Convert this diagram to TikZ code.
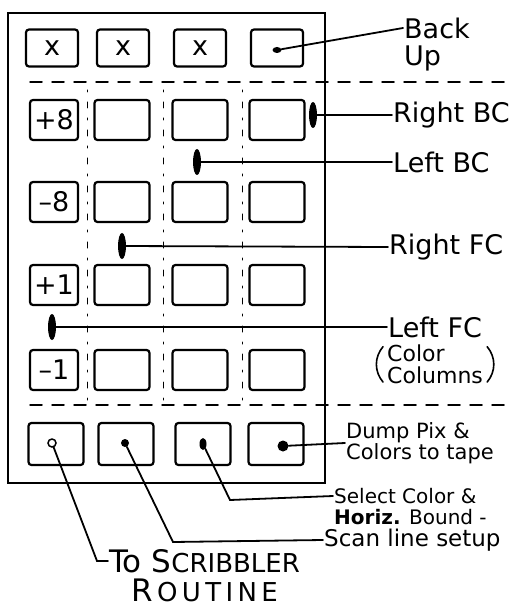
\documentclass[tikz,border=0pt]{standalone}
\usepackage{fontspec}
\setmainfont{DejaVu Sans}
\usetikzlibrary{positioning,shapes.geometric}
\newcommand{\fsz}[1]{\fontsize{#1}{#1}\selectfont}
\newcommand{\scpart}[1]{{\fsz{26}#1}}

\begin{document}
\begin{tikzpicture}[x=1pt, y=-1pt, line cap=round,
    key/.style={draw, line width=2.2pt, rounded corners=3pt, minimum width=55pt,
      minimum height=40pt, inner sep=0pt},
    numkey/.style={key, minimum width=48pt, font=\fsz{27}},
    blob/.style={fill, ellipse, inner sep=0pt, minimum width=8pt, minimum height=26pt},
    dot/.style={fill, circle, inner sep=0pt, minimum size=#1},
    lead/.style={line width=1.8pt},
    lbl/.style={anchor=west, inner sep=1pt, font=\fsz{27}},
    note/.style={anchor=west, inner sep=1pt, font=\fsz{21}},
    paren/.style={line width=1.6pt},
    sep/.style={line width=1.5pt, dash pattern=on 12pt off 10pt},
    col/.style={line width=1pt, dash pattern=on 2pt off 10pt on 6pt off 10pt}]
  \useasboundingbox (0,0) rectangle (522,609);
  % panel and separators
  \draw[line width=2.5pt] (8,13) rectangle (325,483);
  \draw[sep] (30,82) -- (510,82);
  \draw[sep] (30,405) -- (510,405);
  \foreach \x in {87,163,242}
    \draw[col] (\x,90) -- (\x,400);
  % top row
  \foreach \x/\n in {52/1,123/2,200/3}
    \node[key, minimum width=52pt, minimum height=37pt, font=\fsz{27}] (top\n) at (\x,48) {x};
  \node[key, minimum width=52pt, minimum height=37pt] (top4) at (277,48) {};
  % colour grid
  \foreach \y/\r/\t in {120/1/+8, 202/2/–8, 285/3/+1, 370/4/–1}{
    \node[numkey] (k\r1) at (54,\y) {\t};
    \foreach \x/\c in {122/2,200/3,277/4}
      \node[key] (k\r\c) at (\x,\y) {};
  }
  % bottom row
  \foreach \x/\n in {56/1,126/2,203/3,276/4}
    \node[key, minimum height=42pt] (bot\n) at (\x,444) {};
  % pointers
  \node[dot=8pt, fill=none, draw, line width=1.5pt] (scrib) at (52,443) {};
  \node[dot=8pt] (scan) at (125,443) {};
  \node[fill, ellipse, inner sep=0pt, minimum width=7pt, minimum height=12pt] (select) at (203,444) {};
  \node[dot=11pt] (dump) at (283,446) {};
  \node[fill, ellipse, inner sep=0pt, minimum width=9pt, minimum height=6pt] (backup) at (277,50) {};
  \node[blob] (rbc) at (313,115) {};
  \node[blob] (lbc) at (197,162) {};
  \node[blob] (rfc) at (122,246) {};
  \node[blob] (lfc) at (52,327) {};
  % labels
  \node[lbl] (back) at (403,28) {Back};
  \node[lbl, below=5pt of back.south west, anchor=north west] (up) {Up};
  \node[lbl] (rightbc) at (392,115) {Right BC};
  \node[lbl] (leftbc) at (392,162) {Left BC};
  \node[lbl] (rightfc) at (388,247) {Right FC};
  \node[lbl] (leftfc) at (387,327) {Left FC};
  \node[font=\fsz{22}, align=left, inner sep=1pt, below=5pt of leftfc] (colcols) {Color\\Columns};
  \draw[paren] ([shift={(-3pt,-3pt)}]colcols.north west) to[bend right=40] ([shift={(-3pt,3pt)}]colcols.south west);
  \draw[paren] ([shift={(3pt,-3pt)}]colcols.north east) to[bend left=40] ([shift={(3pt,3pt)}]colcols.south east);
  \node[note, align=left] (dumpl) at (345,443) {Dump Pix \&\\Colors to tape};
  \node[note, font=\fsz{20}] (sel1) at (333,496) {Select Color \&};
  \node[note, font=\fsz{20}, below=3pt of sel1.south west, anchor=north west] (sel2)
    {\textbf{Horiz.} Bound -};
  \node[note, font=\fsz{23}] (scanl) at (323,540) {Scan line setup};
  \node[lbl, font=\fsz{31}] (scribl) at (108,561) {To S\scpart{CRIBBLER}};
  \node[font=\fsz{31}, inner sep=1pt, below=4pt of scribl] (routine) {R\scpart{\,O\,U\,T\,I\,N\,E}};
  % connectors
  \coordinate (selbend) at (230,500);
  \coordinate (scanbend) at (173,542);
  \coordinate (scribbend) at (97,561);
  \draw[lead] (backup) -- (back.west);
  \draw[lead] (rbc) -- (rightbc.west);
  \draw[lead] (lbc) -- (leftbc.west);
  \draw[lead] (rfc) -- (rightfc.west);
  \draw[lead] (lfc) -- (leftfc.west);
  \draw[lead] (dump) -- (dumpl.west);
  \draw[lead] (select) -- (selbend) -- (sel1.west);
  \draw[lead] (scan) -- (scanbend) -- (scanl.west);
  \draw[lead] (scrib) -- (scribbend) -- (scribl.west);
\end{tikzpicture}
\end{document}
